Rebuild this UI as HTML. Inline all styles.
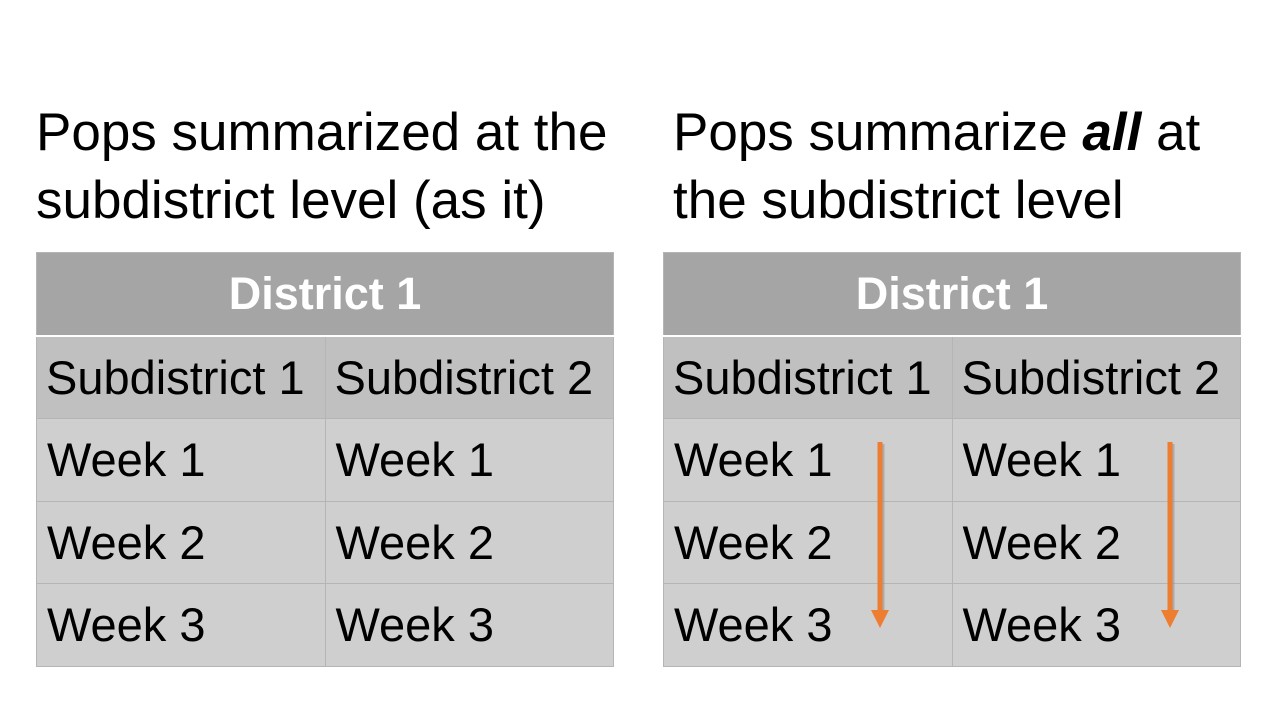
<!DOCTYPE html>
<html><head><meta charset="utf-8"><style>
body{margin:0;width:1280px;height:720px;background:#fff;font-family:"Liberation Sans",sans-serif;position:relative;overflow:hidden}
.t{position:absolute;font-size:53px;line-height:68px;color:#000;white-space:nowrap}
table{position:absolute;border-collapse:collapse;top:252px;width:578px;table-layout:fixed}
td{height:81.5px;padding:0 0 0 10px;font-size:47px;border:1px solid #b5b5b5;background:#d0cfd0;white-space:nowrap;overflow:hidden}
tr.h td{background:#a5a5a5;color:#fff;font-weight:bold;font-size:45px;text-align:center;padding:0;border-bottom:2px solid #fff}
tr.s td{background:#c0c0c0;padding-left:9px}
</style></head><body>
<div class="t" style="left:36px;top:99px">Pops summarized at the<br>subdistrict level (as it)</div>
<div class="t" style="left:673px;top:99px">Pops summarize <b><i>all</i></b> at<br>the subdistrict level</div>
<table style="left:36px">
<tr class="h"><td colspan="2">District 1</td></tr>
<tr class="s"><td>Subdistrict 1</td><td>Subdistrict 2</td></tr>
<tr><td>Week 1</td><td>Week 1</td></tr>
<tr><td>Week 2</td><td>Week 2</td></tr>
<tr><td>Week 3</td><td>Week 3</td></tr>
</table>
<table style="left:663px">
<tr class="h"><td colspan="2">District 1</td></tr>
<tr class="s"><td>Subdistrict 1</td><td>Subdistrict 2</td></tr>
<tr><td>Week 1</td><td>Week 1</td></tr>
<tr><td>Week 2</td><td>Week 2</td></tr>
<tr><td>Week 3</td><td>Week 3</td></tr>
</table>
<svg width="1280" height="720" style="position:absolute;left:0;top:0">
<g>
<line x1="882" y1="444" x2="882" y2="612" stroke="#888" stroke-width="5" opacity=".5"/>
<line x1="880" y1="442" x2="880" y2="612" stroke="#ed7d31" stroke-width="5"/>
<polygon points="871,610 889,610 880,628" fill="#ed7d31"/></g>
<g>
<line x1="1172" y1="444" x2="1172" y2="612" stroke="#888" stroke-width="5" opacity=".5"/>
<line x1="1170" y1="442" x2="1170" y2="612" stroke="#ed7d31" stroke-width="5"/>
<polygon points="1161,610 1179,610 1170,628" fill="#ed7d31"/></g>
</svg>
</body></html>
